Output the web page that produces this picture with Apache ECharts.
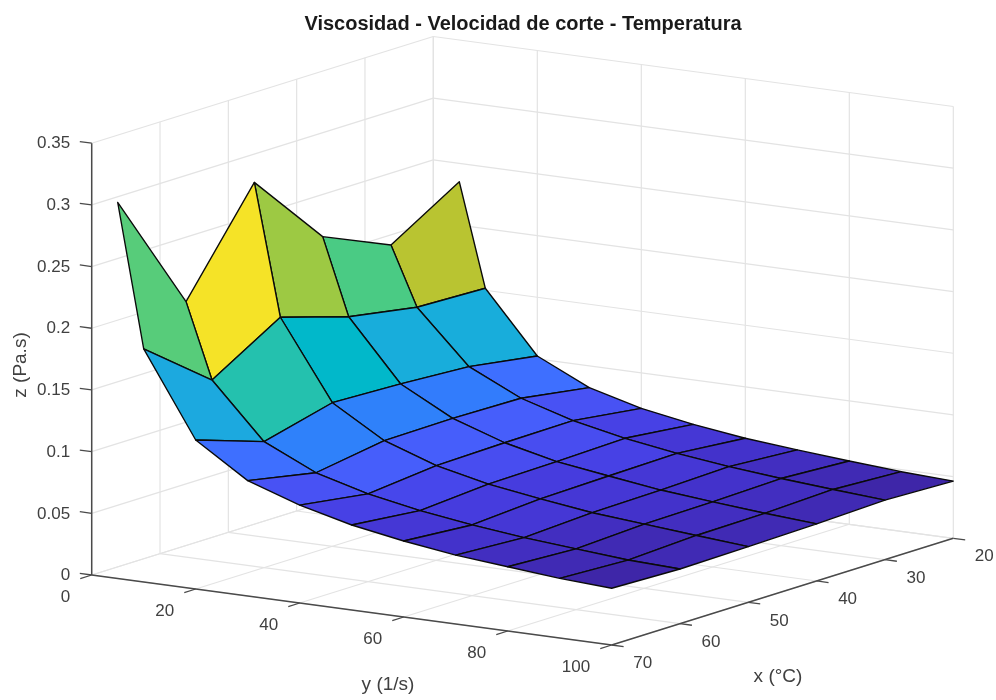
<!DOCTYPE html>
<html>
<head>
<meta charset="utf-8">
<style>html,body{margin:0;padding:0;background:#fff}#c{width:996px;height:700px}</style>
<script src="https://cdn.jsdelivr.net/npm/echarts@6/dist/echarts.min.js"></script>
</head>
<body>
<div id="c"></div>
<script>
const titleText = 'Viscosidad - Velocidad de corte - Temperatura';
const xName = 'x (°C)', yName = 'y (1/s)', zName = 'z (Pa.s)';

const xValues = [20, 30, 40, 50, 60, 70];
const yValues = [5, 10, 20, 30, 40, 50, 60, 70, 80, 90, 100];
const z_y5   = [.2351, .2011, .2252, .2865, .2071, .3049];
const z_y10  = [.1516, .1535, .1631, .1800, .1464, .1889];
const z_y20  = [.1024, .1110, .1143, .1164, .1021, .1208];
const z_y30  = [.0824, .0911, .0921, .0913, .0826, .0935];
const z_y40  = [.0713, .0786, .0780, .0767, .0711, .0794];
const z_y50  = [.0640, .0700, .0683, .0675, .0632, .0689];
const z_y60  = [.0584, .0635, .0624, .0612, .0573, .0616];
const z_y70  = [.0546, .0583, .0567, .0556, .0527, .0559];
const z_y80  = [.0513, .0544, .0527, .0520, .0492, .0521];
const z_y90  = [.0483, .0512, .0492, .0485, .0459, .0484];
const z_y100 = [.0464, .0483, .0463, .0452, .0443, .0460];
const zRows = [z_y5, z_y10, z_y20, z_y30, z_y40, z_y50, z_y60, z_y70, z_y80, z_y90, z_y100];

const xTicks = [20, 30, 40, 50, 60, 70];
const yTicks = [0, 20, 40, 60, 80, 100];
const zTicks = [0, 0.05, 0.1, 0.15, 0.2, 0.25, 0.3, 0.35];
const zTickLabels = ['0', '0.05', '0.1', '0.15', '0.2', '0.25', '0.3', '0.35'];

const parula = [[.2422,.1504,.6603],[.2504,.1650,.7076],[.2578,.1818,.7511],[.2647,.1978,.7952],[.2706,.2147,.8364],[.2751,.2342,.8710],[.2783,.2559,.8991],[.2803,.2782,.9221],[.2813,.3006,.9414],[.2810,.3228,.9579],[.2795,.3447,.9717],[.2760,.3667,.9829],[.2699,.3892,.9906],[.2602,.4123,.9952],[.2440,.4358,.9988],[.2206,.4603,.9973],[.1963,.4847,.9892],[.1834,.5074,.9798],[.1786,.5289,.9682],[.1764,.5499,.9520],[.1687,.5703,.9359],[.1540,.5902,.9218],[.1460,.6091,.9079],[.1380,.6276,.8973],[.1248,.6459,.8883],[.1113,.6635,.8763],[.0952,.6798,.8598],[.0689,.6948,.8394],[.0297,.7082,.8163],[.0036,.7203,.7917],[.0067,.7312,.7660],[.0433,.7411,.7394],[.0964,.7500,.7120],[.1408,.7584,.6842],[.1717,.7670,.6554],[.1938,.7758,.6251],[.2161,.7843,.5923],[.2470,.7918,.5567],[.2906,.7973,.5188],[.3406,.8008,.4789],[.3909,.8029,.4354],[.4456,.8024,.3909],[.5044,.7993,.3480],[.5616,.7942,.3045],[.6174,.7876,.2612],[.6720,.7793,.2227],[.7242,.7698,.1910],[.7738,.7598,.1646],[.8203,.7498,.1535],[.8634,.7406,.1596],[.9035,.7330,.1774],[.9393,.7288,.2100],[.9728,.7298,.2394],[.9956,.7434,.2371],[.9970,.7659,.2199],[.9952,.7861,.1991],[.9892,.8086,.1770],[.9786,.8317,.1546],[.9676,.8566,.1328],[.9610,.8890,.1537],[.9597,.9135,.1423],[.9626,.9373,.1265],[.9691,.9606,.1064],[.9763,.9831,.0538]];

const xLim = [20, 70], yLim = [0, 100], zLim = [0, 0.35];

// orthographic camera: screen position of the (x=70, y=0, z=0) corner and the screen extent of each axis
const cam = { o: [91.7, 575], yv: [520, 70], xv: [341.6, -106.7], zh: 431.8 };
function proj(x, y, z) {
  const a = (y - yLim[0]) / (yLim[1] - yLim[0]);
  const b = (xLim[1] - x) / (xLim[1] - xLim[0]);
  const c = (z - zLim[0]) / (zLim[1] - zLim[0]);
  return [cam.o[0] + a * cam.yv[0] + b * cam.xv[0],
          cam.o[1] + a * cam.yv[1] + b * cam.xv[1] - c * cam.zh];
}

const allZ = zRows.flat();
const zMin = Math.min(...allZ), zMax = Math.max(...allZ);
function faceColor(z) {
  const t = (z - zMin) / (zMax - zMin);
  const c = parula[Math.min(parula.length - 1, Math.floor(t * parula.length))];
  return 'rgb(' + c.map(v => Math.round(v * 255)).join(',') + ')';
}

// segments: [x1,y1,z1,x2,y2,z2]
const gridSegs = [];
xTicks.forEach(x => {
  gridSegs.push([x, yLim[0], zLim[0], x, yLim[0], zLim[1]]);
  gridSegs.push([x, yLim[0], zLim[0], x, yLim[1], zLim[0]]);
});
yTicks.forEach(y => {
  gridSegs.push([xLim[0], y, zLim[0], xLim[0], y, zLim[1]]);
  gridSegs.push([xLim[0], y, zLim[0], xLim[1], y, zLim[0]]);
});
zTicks.forEach(z => {
  gridSegs.push([xLim[1], yLim[0], z, xLim[0], yLim[0], z]);
  gridSegs.push([xLim[0], yLim[0], z, xLim[0], yLim[1], z]);
});

const axisSegs = [
  [xLim[1], yLim[0], zLim[0], xLim[1], yLim[0], zLim[1]],
  [xLim[1], yLim[0], zLim[0], xLim[1], yLim[1], zLim[0]],
  [xLim[1], yLim[1], zLim[0], xLim[0], yLim[1], zLim[0]]
];

// ticks: anchor + direction kind; labels: text + offset
const tickLen = 12;
function unit(v) { const n = Math.hypot(v[0], v[1]); return [v[0] / n, v[1] / n]; }
const uy = unit(cam.yv), ux = unit(cam.xv);
const tickRows = [], labelRows = [];
zTicks.forEach((z, i) => {
  tickRows.push([xLim[1], yLim[0], z, -uy[0] * tickLen, -uy[1] * tickLen]);
  labelRows.push([xLim[1], yLim[0], z, -21.5, 0.5, zTickLabels[i], 'right']);
});
yTicks.forEach(y => {
  tickRows.push([xLim[1], y, zLim[0], -ux[0] * tickLen, -ux[1] * tickLen]);
  labelRows.push([xLim[1], y, zLim[0], -21.5, 22, String(y), 'right']);
});
xTicks.forEach(x => {
  tickRows.push([x, yLim[1], zLim[0], uy[0] * tickLen, uy[1] * tickLen]);
  labelRows.push([x, yLim[1], zLim[0], 21.5, 18.5, String(x), 'left']);
});

const faces = [];
for (let j = 0; j < yValues.length - 1; j++) {
  for (let i = 0; i < xValues.length - 1; i++) faces.push([xValues[i], yValues[j], zRows[j][i], i, j]);
}

const TICK_FONT = '17px "Liberation Sans", Arial, sans-serif';
const NAME_FONT = '19px "Liberation Sans", Arial, sans-serif';

function segRender(color, width) {
  return function (params, api) {
    const a = proj(api.value(0), api.value(1), api.value(2));
    const b = proj(api.value(3), api.value(4), api.value(5));
    const p = api.coord(a), q = api.coord(b);
    return { type: 'line', shape: { x1: p[0], y1: p[1], x2: q[0], y2: q[1] },
             style: { stroke: color, lineWidth: width, fill: null }, silent: true };
  };
}

const base = { type: 'custom', coordinateSystem: 'cartesian2d', silent: true, clip: false, animation: false };

const option = {
  animation: false,
  backgroundColor: '#fff',
  title: { text: titleText, left: 518, top: 9, textAlign: 'center',
    textStyle: { color: '#1a1a1a', fontFamily: '"Liberation Sans", Arial, sans-serif', fontWeight: 'bold', fontSize: 20 } },
  grid: { left: 0, right: 0, top: 0, bottom: 0 },
  xAxis: { type: 'value', min: 0, max: 996, show: false },
  yAxis: { type: 'value', min: 0, max: 700, inverse: true, show: false },
  tooltip: { show: false },
  series: [
    Object.assign({}, base, { name: 'grid', z: 1, data: gridSegs, encode: { x: 0, y: 1 }, renderItem: segRender('#e3e3e3', 1.2) }),
    Object.assign({}, base, { name: 'axes', z: 2, data: axisSegs, encode: { x: 0, y: 1 }, renderItem: segRender('#4a4a4a', 1.5) }),
    Object.assign({}, base, { name: 'ticks', z: 2, data: tickRows, encode: { x: 0, y: 1 },
      renderItem(params, api) {
        const a = proj(api.value(0), api.value(1), api.value(2));
        const p = api.coord(a), q = api.coord([a[0] + api.value(3), a[1] + api.value(4)]);
        return { type: 'line', shape: { x1: p[0], y1: p[1], x2: q[0], y2: q[1] },
                 style: { stroke: '#4a4a4a', lineWidth: 1.3, fill: null }, silent: true };
      } }),
    Object.assign({}, base, { name: 'surface', z: 3, data: faces, encode: { x: 0, y: 1 },
      renderItem(params, api) {
        const i = api.value(3), j = api.value(4);
        const pts = [[i, j], [i + 1, j], [i + 1, j + 1], [i, j + 1]].map(([a, b]) =>
          api.coord(proj(xValues[a], yValues[b], zRows[b][a])));
        return { type: 'polygon', shape: { points: pts },
                 style: { fill: faceColor(api.value(2)), stroke: '#0a0a0a', lineWidth: 1.35, lineJoin: 'round' }, silent: true };
      } }),
    Object.assign({}, base, { name: 'tickLabels', z: 4, data: labelRows.map(r => r.slice()),
      dimensions: ['x', 'y', 'z', 'dx', 'dy', { name: 'label', type: 'ordinal' }, { name: 'align', type: 'ordinal' }],
      encode: { x: 0, y: 1 },
      renderItem(params, api) {
        const r = labelRows[params.dataIndex];
        const a = proj(r[0], r[1], r[2]);
        const p = api.coord([a[0] + r[3], a[1] + r[4]]);
        return { type: 'text', style: { text: r[5], x: p[0], y: p[1], align: r[6], verticalAlign: 'middle', fill: '#404040', font: TICK_FONT }, silent: true };
      } }),
    Object.assign({}, base, { name: 'axisNames', z: 4, data: [[778, 677], [388, 685], [21, 365]], encode: { x: 0, y: 1 },
      renderItem(params, api) {
        const p = api.coord([api.value(0), api.value(1)]);
        const names = [xName, yName, zName];
        const k = params.dataIndex;
        return { type: 'text', x: p[0], y: p[1], rotation: k === 2 ? Math.PI / 2 : 0,
                 style: { text: names[k], x: 0, y: 0, align: 'center', verticalAlign: 'middle', fill: '#404040', font: NAME_FONT }, silent: true };
      } })
  ]
};
const chart = echarts.init(document.getElementById('c'), null, { renderer: 'canvas', width: 996, height: 700 });
chart.setOption(option);
</script>
</body>
</html>
